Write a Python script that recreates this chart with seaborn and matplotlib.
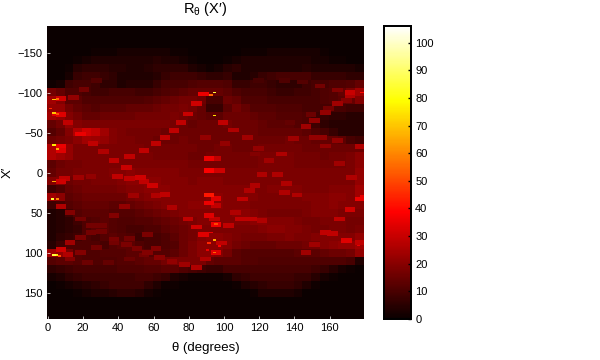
#!/usr/bin/env python3
import numpy as np
import matplotlib
matplotlib.use("Agg")
import matplotlib.pyplot as plt
import seaborn as sns

# projection values, one row per 10 units of x', one column per 5 degrees
x_rows = list(range(-180, 190, 10))
theta_cols = list(range(0, 180, 5))
radon_rows = [
    [0] * 36,
    [0] * 36,
    [0] * 36,
    [0,0,0,0,0,1,1,1,2,2,2,2,2,2,1,1,0,0,0,0,0,0,1,1,1,2,2,2,2,2,2,1,0,0,0,0],
    [0,0,0,1,2,3,3,3,3,3,3,3,4,3,3,2,1,0,0,0,1,2,3,3,3,3,3,3,3,3,2,2,1,1,0,0],
    [0,0,1,4,5,5,5,4,4,3,3,4,5,5,5,5,3,2,1,2,4,5,3,3,3,3,3,3,3,4,3,3,3,3,3,2],
    [0,0,2,6,7,7,6,5,3,3,3,3,4,6,7,7,7,6,5,5,6,3,3,4,6,7,8,8,8,8,6,6,6,6,5,5],
    [1,2,7,8,8,7,5,5,3,4,4,4,6,8,8,8,9,10,10,10,9,6,6,7,7,6,5,5,5,7,8,8,9,9,10,12],
    [14,12,9,9,8,7,7,8,8,8,7,7,8,9,10,11,12,12,12,12,11,9,8,8,8,7,6,6,7,7,8,9,10,12,15,20],
    [20,16,11,11,9,9,9,9,9,9,9,10,11,12,13,14,14,13,8,8,13,12,9,9,9,8,8,8,8,8,8,9,10,11,12,16],
    [18,18,14,12,11,10,11,11,11,12,12,12,13,14,14,15,14,12,6,6,11,14,12,10,10,10,9,9,9,8,8,8,8,8,7,7],
    [20,18,16,14,12,12,13,13,13,13,14,14,14,14,15,14,13,12,11,11,13,13,13,12,11,11,10,10,10,9,7,6,5,5,4,4],
    [12,14,18,16,15,15,15,15,15,15,15,15,15,15,14,13,12,13,13,13,14,13,13,13,12,11,11,11,10,9,7,5,4,4,4,4],
    [10,12,16,22,26,24,20,16,15,14,14,14,14,13,13,13,13,13,13,13,13,13,13,13,12,12,12,12,12,11,9,8,6,4,4,4],
    [13,14,15,17,20,19,18,16,15,15,14,14,13,13,13,14,13,13,13,13,13,13,13,13,13,13,13,14,13,13,12,12,12,11,8,7],
    [22,22,18,15,15,15,15,15,15,15,15,14,14,14,14,14,14,13,13,14,14,13,13,13,14,14,14,14,14,13,13,13,13,13,13,13],
    [22,20,18,15,15,15,15,15,15,15,15,15,14,14,14,14,13,13,14,14,14,14,14,14,15,15,15,15,14,14,14,13,14,14,15,17],
    [11,13,14,14,15,15,15,15,15,15,15,15,15,15,15,15,14,14,14,14,14,14,14,14,15,15,15,15,14,14,14,14,14,14,15,17],
    [12,14,14,15,15,15,15,16,16,17,16,16,16,16,16,15,15,15,15,15,15,15,15,15,15,15,15,15,15,15,15,15,15,15,15,18],
    [16,16,13,14,14,15,15,15,16,17,17,17,17,16,16,16,15,16,16,16,15,15,15,15,15,15,15,15,15,15,15,15,15,15,15,18],
    [7,9,12,13,14,14,14,14,15,16,16,17,17,17,16,16,16,16,16,16,16,16,16,15,15,16,16,16,16,15,15,15,16,16,16,20],
    [20,17,11,12,13,13,13,13,13,14,15,16,16,16,16,16,16,16,17,17,16,16,16,16,15,15,15,15,15,16,16,16,17,17,16,20],
    [7,8,10,11,12,12,12,11,11,12,13,14,15,16,16,16,17,17,17,17,16,16,16,15,15,15,15,15,15,15,16,16,17,16,16,16],
    [3,4,7,10,11,11,11,10,10,10,11,12,13,14,15,16,16,16,16,16,16,17,17,16,15,14,14,14,14,15,16,16,16,15,15,15],
    [3,4,5,7,9,10,11,10,9,9,10,10,11,12,13,14,15,16,16,16,16,16,16,17,17,16,16,16,15,14,14,15,15,15,14,14],
    [3,4,5,6,9,11,11,10,9,8,8,9,9,11,12,13,14,15,15,15,15,15,15,15,16,17,17,16,16,15,14,14,15,15,14,15],
    [3,5,6,7,9,8,10,11,10,9,7,8,8,9,11,13,14,16,17,17,16,15,14,14,14,15,15,16,15,15,16,16,16,16,16,18],
    [4,7,9,9,9,9,8,10,11,11,9,8,8,9,10,13,15,17,17,17,16,14,13,12,12,12,13,13,13,14,14,16,17,18,18,20],
    [20,18,14,10,9,9,10,10,10,11,11,10,10,10,11,13,15,17,17,16,14,11,10,10,10,10,10,10,11,11,11,12,13,13,14,18],
    [10,11,11,10,9,9,9,9,10,10,11,12,12,14,15,15,15,15,12,11,11,11,10,10,9,9,9,9,9,9,9,9,9,9,8,3],
    [5,6,7,8,8,8,8,8,9,9,9,10,10,11,11,9,8,7,6,6,8,8,8,8,8,8,8,8,8,8,7,6,4,2,1,0],
    [2,3,5,6,7,7,7,7,7,7,8,8,7,6,3,2,1,1,1,1,2,5,6,7,7,7,7,7,6,6,4,2,1,0,0,0],
    [0,1,2,3,4,5,6,7,7,7,7,5,3,1,1,0,0,0,0,0,0,1,3,4,5,6,6,6,5,3,1,0,0,0,0,0],
    [0,0,0,1,2,3,3,4,5,5,4,2,1,0,0,0,0,0,0,0,0,0,0,1,3,3,3,3,2,0,0,0,0,0,0,0],
    [0] * 36,
    [0] * 36,
    [0] * 36,
]

# brightest single spots
peak_theta = [3, 5, 3, 5, 1, 3, 5, 3, 2, 5, 3, 4, 6, 94, 92, 94, 94, 95, 94, 91, 178, 178, 176, 92, 97, 90]
peak_x = [-91, -92, -74, -73, -80, -34, -29, 11, 33, 33, 103, 103, 104, -100, -97, -71, 84, 64, 100, 88, -100, 29, 91, 75, 92, 97]
peak_val = [70, 55, 70, 50, 45, 75, 65, 65, 85, 60, 85, 75, 50, 85, 55, 75, 65, 50, 55, 45, 40, 35, 35, 35, 38, 35]

# points along the brighter arcs
ridge_theta = [8, 13, 19, 25, 31, 38, 45, 51, 57, 64, 71, 78, 85,
               8, 13, 19, 25, 31, 38, 44, 49,
               12, 19, 28, 38, 47, 57,
               13, 23, 35, 47, 55, 62,
               6, 12, 19, 26, 32, 38, 45, 53, 60, 67,
               47, 55, 62, 67, 72, 76, 80, 85, 89,
               15, 21, 28,
               100, 106, 114, 120, 126, 131, 136,
               172, 165, 155, 145, 135, 120,
               172, 165, 158, 152, 147, 140, 133, 122,
               170, 160, 150, 138,
               152, 158, 166, 173,
               156, 165, 178,
               90, 101, 118,
               92, 96, 92, 98,
               92, 96, 92, 96, 92, 95, 96,
               90, 96, 99, 103, 107, 111, 115, 118,
               110, 116, 122,
               135, 142, 147, 152, 158, 166, 172, 178,
               162, 170, 178,
               40, 47, 55,
               62, 71, 80, 85, 89,
               10, 18, 25,
               8, 8, 8, 8, 8]
ridge_x = [42, 50, 58, 66, 74, 83, 90, 95, 100, 106, 111, 115, 119,
           96, 87, 81, 75, 66, 54, 42, 29,
           102, 100, 94, 87, 82, 77,
           108, 112, 112, 108, 103, 95,
           -73, -62, -48, -36, -26, -15, -6, 6, 16, 27,
           -20, -27, -36, -44, -52, -62, -73, -86, -98,
           -94, -104, -115,
           -62, -53, -44, -30, -15, 2, 14,
           -100, -103, -108, -113, -115, -115,
           -96, -86, -75, -65, -57, -42, -23, 2,
           -90, -80, -72, -62,
           -44, -33, -11, 6,
           -44, -40, -32,
           -44, -36, -23,
           -17, -17, -3, -3,
           28, 32, 38, 41, 54, 58, 65,
           108, 100, 88, 66, 50, 33, 22, 16,
           58, 58, 60,
           25, 28, 100, 90, 75, 58, 46, 33,
           76, 85, 87,
           5, 7, 11,
           29, 44, 58, 68, 77,
           7, 6, 5,
           -92, -72, -33, -27, 11]
ridge_val = [22, 16, 14, 14, 14, 15, 15, 15, 16, 17, 18, 20, 22,
             26, 20, 15, 14, 14, 16, 18, 20,
             22, 16, 14, 14, 14, 15,
             16, 13, 12, 13, 14, 16,
             28, 24, 30, 24, 22, 24, 25, 26, 26, 24,
             24, 24, 24, 24, 24, 24, 25, 26, 30,
             18, 14, 10,
             24, 22, 20, 18, 20, 22, 22,
             25, 16, 14, 10, 9, 8,
             22, 20, 18, 18, 20, 20, 22, 22,
             16, 14, 13, 12,
             18, 18, 20, 22,
             18, 18, 22,
             18, 18, 16,
             30, 24, 32, 26,
             35, 28, 30, 24, 28, 24, 30,
             22, 28, 24, 24, 22, 24, 22, 22,
             24, 24, 22,
             22, 22, 20, 20, 24, 24, 26, 30,
             24, 28, 24,
             24, 24, 24,
             22, 22, 24, 26, 28,
             24, 20, 18,
             26, 28, 30, 28, 26]

x_ticks = [-150, -100, -50, 0, 50, 100, 150]
theta_ticks = list(range(0, 180, 20))
cbar_ticks = list(range(0, 110, 10))
gain = 1.2  # my first read of the reds came out too dark


def main():
    plt.rcParams["font.family"] = ["Liberation Sans", "DejaVu Sans"]
    plt.rcParams["mathtext.default"] = "regular"
    # one cell per degree and per unit of x'
    grid = np.repeat(np.repeat(np.array(radon_rows, dtype=float), 10, axis=0), 5, axis=1)
    for t, x, v in zip(ridge_theta, ridge_x, ridge_val):
        j = x + 185
        grid[j - 3:j + 3, max(t - 3, 0):t + 3] = np.maximum(grid[j - 3:j + 3, max(t - 3, 0):t + 3], v)
    grid *= gain
    for t, x, v in zip(peak_theta, peak_x, peak_val):
        j = x + 185
        grid[j - 1:j + 1, t:t + 2] = np.maximum(grid[j - 1:j + 1, t:t + 2], v)

    fig = plt.figure(figsize=(6, 3.6), dpi=100)
    ax = fig.add_axes([47 / 600, 1 - 319 / 360, 317 / 600, 293 / 360])
    cax = fig.add_axes([384 / 600, 1 - 319 / 360, 27 / 600, 293 / 360])
    sns.heatmap(grid, ax=ax, cbar_ax=cax, cmap="hot", vmin=0, vmax=106, xticklabels=False, yticklabels=False,
                cbar_kws={"ticks": cbar_ticks})
    ax.set_ylim(368, 2)
    ax.set_xlim(0, 180)
    ax.set_xticks([t + 0.5 for t in theta_ticks])
    ax.set_xticklabels(theta_ticks, rotation=0, fontsize=8)
    ax.set_yticks([x + 185.5 for x in x_ticks])
    ax.set_yticklabels([str(x).replace("-", "\u2212") for x in x_ticks], rotation=0, fontsize=8)
    ax.tick_params(length=2, width=0.5, pad=3, direction="in", color="white")
    ax.set_title("R$_{\u03b8}$ (X\u2032)", fontsize=10.5, pad=9)
    ax.set_xlabel("\u03b8 (degrees)", fontsize=9.5, labelpad=6)
    ax.set_ylabel("X\u2032", fontsize=9.5, labelpad=3)

    cax.tick_params(labelsize=8, length=2, width=1, direction="in", pad=3)
    for spine in cax.spines.values():
        spine.set_visible(True)
        spine.set_linewidth(1.3)
        spine.set_color("black")
    fig.savefig("out.png", dpi=100)
    plt.close(fig)


if __name__ == "__main__":
    main()
